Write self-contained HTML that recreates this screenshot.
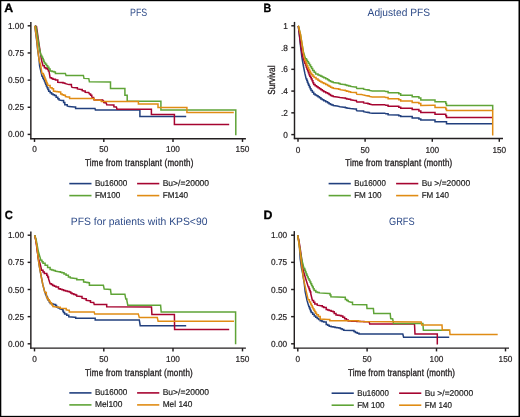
<!DOCTYPE html>
<html><head><meta charset="utf-8"><style>
html,body{margin:0;padding:0;background:#fff;}
#c{position:relative;width:520px;height:417px;overflow:hidden;background:#fff;}
svg{position:absolute;left:0;top:0;font-family:"Liberation Sans",sans-serif;text-rendering:geometricPrecision;will-change:transform;}
</style></head><body><div id="c">
<svg width="520" height="417" viewBox="0 0 520 417">
<rect x="0" y="0" width="520" height="417" fill="#fff"/>
<g>
<rect x="0" y="0" width="520" height="1.2" fill="#000"/><rect x="0" y="415.85" width="520" height="1.15" fill="#000"/><rect x="0" y="0" width="1.3" height="417" fill="#000"/><rect x="518.5" y="0" width="1.5" height="417" fill="#000"/>
<line x1="30.85" y1="22" x2="30.85" y2="139.3" stroke="#231f20" stroke-width="1.45"/>
<line x1="30.200000000000003" y1="138.65" x2="245.9" y2="138.65" stroke="#231f20" stroke-width="1.45"/>
<line x1="27.650000000000002" y1="25.8" x2="30.85" y2="25.8" stroke="#231f20" stroke-width="1.45"/>
<text x="24.0" y="28.8" font-size="8.7" text-anchor="end" fill="#231f20" font-weight="normal" textLength="16.09" lengthAdjust="spacingAndGlyphs" stroke="#231f20" stroke-width="0.2">1.00</text>
<line x1="27.650000000000002" y1="52.95" x2="30.85" y2="52.95" stroke="#231f20" stroke-width="1.45"/>
<text x="24.0" y="55.95" font-size="8.7" text-anchor="end" fill="#231f20" font-weight="normal" textLength="16.09" lengthAdjust="spacingAndGlyphs" stroke="#231f20" stroke-width="0.2">0.75</text>
<line x1="27.650000000000002" y1="80.10000000000001" x2="30.85" y2="80.10000000000001" stroke="#231f20" stroke-width="1.45"/>
<text x="24.0" y="83.10000000000001" font-size="8.7" text-anchor="end" fill="#231f20" font-weight="normal" textLength="16.09" lengthAdjust="spacingAndGlyphs" stroke="#231f20" stroke-width="0.2">0.50</text>
<line x1="27.650000000000002" y1="107.25" x2="30.85" y2="107.25" stroke="#231f20" stroke-width="1.45"/>
<text x="24.0" y="110.25" font-size="8.7" text-anchor="end" fill="#231f20" font-weight="normal" textLength="16.09" lengthAdjust="spacingAndGlyphs" stroke="#231f20" stroke-width="0.2">0.25</text>
<line x1="27.650000000000002" y1="134.4" x2="30.85" y2="134.4" stroke="#231f20" stroke-width="1.45"/>
<text x="24.0" y="137.4" font-size="8.7" text-anchor="end" fill="#231f20" font-weight="normal" textLength="16.09" lengthAdjust="spacingAndGlyphs" stroke="#231f20" stroke-width="0.2">0.00</text>
<line x1="34.5" y1="138.65" x2="34.5" y2="141.95000000000002" stroke="#231f20" stroke-width="1.45"/>
<text x="34.5" y="152.3" font-size="8.7" text-anchor="middle" fill="#231f20" font-weight="normal" textLength="4.6" lengthAdjust="spacingAndGlyphs" stroke="#231f20" stroke-width="0.2">0</text>
<line x1="103.8" y1="138.65" x2="103.8" y2="141.95000000000002" stroke="#231f20" stroke-width="1.45"/>
<text x="103.8" y="152.3" font-size="8.7" text-anchor="middle" fill="#231f20" font-weight="normal" textLength="9.19" lengthAdjust="spacingAndGlyphs" stroke="#231f20" stroke-width="0.2">50</text>
<line x1="173" y1="138.65" x2="173" y2="141.95000000000002" stroke="#231f20" stroke-width="1.45"/>
<text x="173" y="152.3" font-size="8.7" text-anchor="middle" fill="#231f20" font-weight="normal" textLength="13.79" lengthAdjust="spacingAndGlyphs" stroke="#231f20" stroke-width="0.2">100</text>
<line x1="242.5" y1="138.65" x2="242.5" y2="141.95000000000002" stroke="#231f20" stroke-width="1.45"/>
<text x="242.5" y="152.3" font-size="8.7" text-anchor="middle" fill="#231f20" font-weight="normal" textLength="13.79" lengthAdjust="spacingAndGlyphs" stroke="#231f20" stroke-width="0.2">150</text>
<line x1="294.5" y1="21.9" x2="294.5" y2="139.15" stroke="#231f20" stroke-width="1.45"/>
<line x1="293.85" y1="138.5" x2="503.0" y2="138.5" stroke="#231f20" stroke-width="1.45"/>
<line x1="291.3" y1="25.8" x2="294.5" y2="25.8" stroke="#231f20" stroke-width="1.45"/>
<text x="287.8" y="28.8" font-size="8.7" text-anchor="end" fill="#231f20" font-weight="normal" textLength="4.6" lengthAdjust="spacingAndGlyphs" stroke="#231f20" stroke-width="0.2">1</text>
<line x1="291.3" y1="47.56" x2="294.5" y2="47.56" stroke="#231f20" stroke-width="1.45"/>
<text x="287.8" y="50.56" font-size="8.7" text-anchor="end" fill="#231f20" font-weight="normal" textLength="6.89" lengthAdjust="spacingAndGlyphs" stroke="#231f20" stroke-width="0.2">.8</text>
<line x1="291.3" y1="69.32" x2="294.5" y2="69.32" stroke="#231f20" stroke-width="1.45"/>
<text x="287.8" y="72.32" font-size="8.7" text-anchor="end" fill="#231f20" font-weight="normal" textLength="6.89" lengthAdjust="spacingAndGlyphs" stroke="#231f20" stroke-width="0.2">.6</text>
<line x1="291.3" y1="91.08" x2="294.5" y2="91.08" stroke="#231f20" stroke-width="1.45"/>
<text x="287.8" y="94.08" font-size="8.7" text-anchor="end" fill="#231f20" font-weight="normal" textLength="6.89" lengthAdjust="spacingAndGlyphs" stroke="#231f20" stroke-width="0.2">.4</text>
<line x1="291.3" y1="112.83999999999999" x2="294.5" y2="112.83999999999999" stroke="#231f20" stroke-width="1.45"/>
<text x="287.8" y="115.83999999999999" font-size="8.7" text-anchor="end" fill="#231f20" font-weight="normal" textLength="6.89" lengthAdjust="spacingAndGlyphs" stroke="#231f20" stroke-width="0.2">.2</text>
<line x1="291.3" y1="134.6" x2="294.5" y2="134.6" stroke="#231f20" stroke-width="1.45"/>
<text x="287.8" y="137.6" font-size="8.7" text-anchor="end" fill="#231f20" font-weight="normal" textLength="4.6" lengthAdjust="spacingAndGlyphs" stroke="#231f20" stroke-width="0.2">0</text>
<line x1="298" y1="138.5" x2="298" y2="141.8" stroke="#231f20" stroke-width="1.45"/>
<text x="298" y="152.7" font-size="8.7" text-anchor="middle" fill="#231f20" font-weight="normal" textLength="4.6" lengthAdjust="spacingAndGlyphs" stroke="#231f20" stroke-width="0.2">0</text>
<line x1="365.1" y1="138.5" x2="365.1" y2="141.8" stroke="#231f20" stroke-width="1.45"/>
<text x="365.1" y="152.7" font-size="8.7" text-anchor="middle" fill="#231f20" font-weight="normal" textLength="9.19" lengthAdjust="spacingAndGlyphs" stroke="#231f20" stroke-width="0.2">50</text>
<line x1="432.3" y1="138.5" x2="432.3" y2="141.8" stroke="#231f20" stroke-width="1.45"/>
<text x="432.3" y="152.7" font-size="8.7" text-anchor="middle" fill="#231f20" font-weight="normal" textLength="13.79" lengthAdjust="spacingAndGlyphs" stroke="#231f20" stroke-width="0.2">100</text>
<line x1="499.3" y1="138.5" x2="499.3" y2="141.8" stroke="#231f20" stroke-width="1.45"/>
<text x="499.3" y="152.7" font-size="8.7" text-anchor="middle" fill="#231f20" font-weight="normal" textLength="13.79" lengthAdjust="spacingAndGlyphs" stroke="#231f20" stroke-width="0.2">150</text>
<line x1="30.85" y1="231.5" x2="30.85" y2="348.75" stroke="#231f20" stroke-width="1.45"/>
<line x1="30.200000000000003" y1="348.1" x2="245.9" y2="348.1" stroke="#231f20" stroke-width="1.45"/>
<line x1="27.650000000000002" y1="235.2" x2="30.85" y2="235.2" stroke="#231f20" stroke-width="1.45"/>
<text x="24.0" y="238.2" font-size="8.7" text-anchor="end" fill="#231f20" font-weight="normal" textLength="16.09" lengthAdjust="spacingAndGlyphs" stroke="#231f20" stroke-width="0.2">1.00</text>
<line x1="27.650000000000002" y1="262.35" x2="30.85" y2="262.35" stroke="#231f20" stroke-width="1.45"/>
<text x="24.0" y="265.35" font-size="8.7" text-anchor="end" fill="#231f20" font-weight="normal" textLength="16.09" lengthAdjust="spacingAndGlyphs" stroke="#231f20" stroke-width="0.2">0.75</text>
<line x1="27.650000000000002" y1="289.5" x2="30.85" y2="289.5" stroke="#231f20" stroke-width="1.45"/>
<text x="24.0" y="292.5" font-size="8.7" text-anchor="end" fill="#231f20" font-weight="normal" textLength="16.09" lengthAdjust="spacingAndGlyphs" stroke="#231f20" stroke-width="0.2">0.50</text>
<line x1="27.650000000000002" y1="316.65" x2="30.85" y2="316.65" stroke="#231f20" stroke-width="1.45"/>
<text x="24.0" y="319.65" font-size="8.7" text-anchor="end" fill="#231f20" font-weight="normal" textLength="16.09" lengthAdjust="spacingAndGlyphs" stroke="#231f20" stroke-width="0.2">0.25</text>
<line x1="27.650000000000002" y1="343.8" x2="30.85" y2="343.8" stroke="#231f20" stroke-width="1.45"/>
<text x="24.0" y="346.8" font-size="8.7" text-anchor="end" fill="#231f20" font-weight="normal" textLength="16.09" lengthAdjust="spacingAndGlyphs" stroke="#231f20" stroke-width="0.2">0.00</text>
<line x1="34.5" y1="348.1" x2="34.5" y2="351.40000000000003" stroke="#231f20" stroke-width="1.45"/>
<text x="34.5" y="361.6" font-size="8.7" text-anchor="middle" fill="#231f20" font-weight="normal" textLength="4.6" lengthAdjust="spacingAndGlyphs" stroke="#231f20" stroke-width="0.2">0</text>
<line x1="103.8" y1="348.1" x2="103.8" y2="351.40000000000003" stroke="#231f20" stroke-width="1.45"/>
<text x="103.8" y="361.6" font-size="8.7" text-anchor="middle" fill="#231f20" font-weight="normal" textLength="9.19" lengthAdjust="spacingAndGlyphs" stroke="#231f20" stroke-width="0.2">50</text>
<line x1="173" y1="348.1" x2="173" y2="351.40000000000003" stroke="#231f20" stroke-width="1.45"/>
<text x="173" y="361.6" font-size="8.7" text-anchor="middle" fill="#231f20" font-weight="normal" textLength="13.79" lengthAdjust="spacingAndGlyphs" stroke="#231f20" stroke-width="0.2">100</text>
<line x1="242.5" y1="348.1" x2="242.5" y2="351.40000000000003" stroke="#231f20" stroke-width="1.45"/>
<text x="242.5" y="361.6" font-size="8.7" text-anchor="middle" fill="#231f20" font-weight="normal" textLength="13.79" lengthAdjust="spacingAndGlyphs" stroke="#231f20" stroke-width="0.2">150</text>
<line x1="294.3" y1="231.1" x2="294.3" y2="348.75" stroke="#231f20" stroke-width="1.45"/>
<line x1="293.65000000000003" y1="348.1" x2="509.0" y2="348.1" stroke="#231f20" stroke-width="1.45"/>
<line x1="291.1" y1="235.2" x2="294.3" y2="235.2" stroke="#231f20" stroke-width="1.45"/>
<text x="287.2" y="238.2" font-size="8.7" text-anchor="end" fill="#231f20" font-weight="normal" textLength="16.09" lengthAdjust="spacingAndGlyphs" stroke="#231f20" stroke-width="0.2">1.00</text>
<line x1="291.1" y1="262.35" x2="294.3" y2="262.35" stroke="#231f20" stroke-width="1.45"/>
<text x="287.2" y="265.35" font-size="8.7" text-anchor="end" fill="#231f20" font-weight="normal" textLength="16.09" lengthAdjust="spacingAndGlyphs" stroke="#231f20" stroke-width="0.2">0.75</text>
<line x1="291.1" y1="289.5" x2="294.3" y2="289.5" stroke="#231f20" stroke-width="1.45"/>
<text x="287.2" y="292.5" font-size="8.7" text-anchor="end" fill="#231f20" font-weight="normal" textLength="16.09" lengthAdjust="spacingAndGlyphs" stroke="#231f20" stroke-width="0.2">0.50</text>
<line x1="291.1" y1="316.65" x2="294.3" y2="316.65" stroke="#231f20" stroke-width="1.45"/>
<text x="287.2" y="319.65" font-size="8.7" text-anchor="end" fill="#231f20" font-weight="normal" textLength="16.09" lengthAdjust="spacingAndGlyphs" stroke="#231f20" stroke-width="0.2">0.25</text>
<line x1="291.1" y1="343.8" x2="294.3" y2="343.8" stroke="#231f20" stroke-width="1.45"/>
<text x="287.2" y="346.8" font-size="8.7" text-anchor="end" fill="#231f20" font-weight="normal" textLength="16.09" lengthAdjust="spacingAndGlyphs" stroke="#231f20" stroke-width="0.2">0.00</text>
<line x1="297.8" y1="348.1" x2="297.8" y2="351.40000000000003" stroke="#231f20" stroke-width="1.45"/>
<text x="297.8" y="361.6" font-size="8.7" text-anchor="middle" fill="#231f20" font-weight="normal" textLength="4.6" lengthAdjust="spacingAndGlyphs" stroke="#231f20" stroke-width="0.2">0</text>
<line x1="367.1" y1="348.1" x2="367.1" y2="351.40000000000003" stroke="#231f20" stroke-width="1.45"/>
<text x="367.1" y="361.6" font-size="8.7" text-anchor="middle" fill="#231f20" font-weight="normal" textLength="9.19" lengthAdjust="spacingAndGlyphs" stroke="#231f20" stroke-width="0.2">50</text>
<line x1="436.5" y1="348.1" x2="436.5" y2="351.40000000000003" stroke="#231f20" stroke-width="1.45"/>
<text x="436.5" y="361.6" font-size="8.7" text-anchor="middle" fill="#231f20" font-weight="normal" textLength="13.79" lengthAdjust="spacingAndGlyphs" stroke="#231f20" stroke-width="0.2">100</text>
<line x1="505.5" y1="348.1" x2="505.5" y2="351.40000000000003" stroke="#231f20" stroke-width="1.45"/>
<text x="505.5" y="361.6" font-size="8.7" text-anchor="middle" fill="#231f20" font-weight="normal" textLength="13.79" lengthAdjust="spacingAndGlyphs" stroke="#231f20" stroke-width="0.2">150</text>
<text x="4.3" y="11.9" font-size="12" text-anchor="start" fill="#000" font-weight="bold" textLength="8.93" lengthAdjust="spacingAndGlyphs" stroke="#000" stroke-width="0.3">A</text>
<text x="263.5" y="12.0" font-size="12" text-anchor="start" fill="#000" font-weight="bold" textLength="7.7" lengthAdjust="spacingAndGlyphs" stroke="#000" stroke-width="0.3">B</text>
<text x="4.8" y="218.9" font-size="12" text-anchor="start" fill="#000" font-weight="bold" textLength="8.1" lengthAdjust="spacingAndGlyphs" stroke="#000" stroke-width="0.3">C</text>
<text x="263.4" y="218.8" font-size="12" text-anchor="start" fill="#000" font-weight="bold" textLength="8.95" lengthAdjust="spacingAndGlyphs" stroke="#000" stroke-width="0.3">D</text>
<text x="130.0" y="15.9" font-size="10.6" text-anchor="start" fill="#2e4b88" font-weight="normal" textLength="17.2" lengthAdjust="spacingAndGlyphs">PFS</text>
<text x="367.6" y="16.1" font-size="10.6" text-anchor="start" fill="#2e4b88" font-weight="normal" textLength="62.4" lengthAdjust="spacingAndGlyphs">Adjusted PFS</text>
<text x="70.8" y="225.4" font-size="10.6" text-anchor="start" fill="#2e4b88" font-weight="normal" textLength="136.6" lengthAdjust="spacingAndGlyphs">PFS for patients with KPS&lt;90</text>
<text x="389.0" y="224.8" font-size="10.6" text-anchor="start" fill="#2e4b88" font-weight="normal" textLength="25.6" lengthAdjust="spacingAndGlyphs">GRFS</text>
<text transform="translate(85.0,166.4) scale(0.8,1)" x="0" y="0" font-size="10" fill="#231f20" stroke="#231f20" stroke-width="0.35" textLength="135.50" lengthAdjust="spacing">Time from transplant (month)</text>
<text transform="translate(345.2,166.2) scale(0.8,1)" x="0" y="0" font-size="10" fill="#231f20" stroke="#231f20" stroke-width="0.35" textLength="133.75" lengthAdjust="spacing">Time from transplant (month)</text>
<text transform="translate(85.1,376.2) scale(0.8,1)" x="0" y="0" font-size="10" fill="#231f20" stroke="#231f20" stroke-width="0.35" textLength="134.50" lengthAdjust="spacing">Time from transplant (month)</text>
<text transform="translate(347.9,375.9) scale(0.8,1)" x="0" y="0" font-size="10" fill="#231f20" stroke="#231f20" stroke-width="0.35" textLength="133.75" lengthAdjust="spacing">Time from transplant (month)</text>
<text transform="translate(275.0,80.1) rotate(-90)" x="0" y="0" font-size="10.2" text-anchor="middle" fill="#231f20" stroke="#231f20" stroke-width="0.3" textLength="29.2" lengthAdjust="spacingAndGlyphs">Survival</text>
<line x1="69.3" y1="183.6" x2="91.5" y2="183.6" stroke="#22407e" stroke-width="1.6"/>
<text x="94.9" y="186.15" font-size="8.5" text-anchor="start" fill="#222" font-weight="normal" textLength="32.4" lengthAdjust="spacingAndGlyphs" stroke="#222" stroke-width="0.2">Bu16000</text>
<line x1="137.1" y1="183.6" x2="159.29999999999998" y2="183.6" stroke="#a60430" stroke-width="1.6"/>
<text x="162.7" y="186.15" font-size="8.5" text-anchor="start" fill="#222" font-weight="normal" textLength="46.4" lengthAdjust="spacingAndGlyphs" stroke="#222" stroke-width="0.2">Bu&gt;/=20000</text>
<line x1="69.3" y1="195.6" x2="91.5" y2="195.6" stroke="#5fa437" stroke-width="1.6"/>
<text x="94.9" y="198.15" font-size="8.5" text-anchor="start" fill="#222" font-weight="normal" textLength="25.4" lengthAdjust="spacingAndGlyphs" stroke="#222" stroke-width="0.2">FM100</text>
<line x1="137.1" y1="195.6" x2="159.29999999999998" y2="195.6" stroke="#e08c14" stroke-width="1.6"/>
<text x="162.7" y="198.15" font-size="8.5" text-anchor="start" fill="#222" font-weight="normal" textLength="25.4" lengthAdjust="spacingAndGlyphs" stroke="#222" stroke-width="0.2">FM140</text>
<line x1="328.6" y1="183.6" x2="350.8" y2="183.6" stroke="#22407e" stroke-width="1.6"/>
<text x="354.20000000000005" y="186.15" font-size="8.5" text-anchor="start" fill="#222" font-weight="normal" textLength="31.6" lengthAdjust="spacingAndGlyphs" stroke="#222" stroke-width="0.2">Bu16000</text>
<line x1="396.1" y1="183.6" x2="418.3" y2="183.6" stroke="#a60430" stroke-width="1.6"/>
<text x="421.70000000000005" y="186.15" font-size="8.5" text-anchor="start" fill="#222" font-weight="normal" textLength="48.4" lengthAdjust="spacingAndGlyphs" stroke="#222" stroke-width="0.2">Bu &gt;/=20000</text>
<line x1="328.6" y1="195.6" x2="350.8" y2="195.6" stroke="#5fa437" stroke-width="1.6"/>
<text x="354.20000000000005" y="198.15" font-size="8.5" text-anchor="start" fill="#222" font-weight="normal" textLength="27.4" lengthAdjust="spacingAndGlyphs" stroke="#222" stroke-width="0.2">FM 100</text>
<line x1="396.1" y1="195.6" x2="418.3" y2="195.6" stroke="#e08c14" stroke-width="1.6"/>
<text x="421.70000000000005" y="198.15" font-size="8.5" text-anchor="start" fill="#222" font-weight="normal" textLength="27.2" lengthAdjust="spacingAndGlyphs" stroke="#222" stroke-width="0.2">FM 140</text>
<line x1="69.3" y1="392.9" x2="91.5" y2="392.9" stroke="#22407e" stroke-width="1.6"/>
<text x="94.9" y="395.45" font-size="8.5" text-anchor="start" fill="#222" font-weight="normal" textLength="32.4" lengthAdjust="spacingAndGlyphs" stroke="#222" stroke-width="0.2">Bu16000</text>
<line x1="137.1" y1="392.9" x2="159.29999999999998" y2="392.9" stroke="#a60430" stroke-width="1.6"/>
<text x="162.7" y="395.45" font-size="8.5" text-anchor="start" fill="#222" font-weight="normal" textLength="46.4" lengthAdjust="spacingAndGlyphs" stroke="#222" stroke-width="0.2">Bu&gt;/=20000</text>
<line x1="69.3" y1="404.9" x2="91.5" y2="404.9" stroke="#5fa437" stroke-width="1.6"/>
<text x="94.9" y="407.45" font-size="8.5" text-anchor="start" fill="#222" font-weight="normal" textLength="27.6" lengthAdjust="spacingAndGlyphs" stroke="#222" stroke-width="0.2">Mel100</text>
<line x1="137.1" y1="404.9" x2="159.29999999999998" y2="404.9" stroke="#e08c14" stroke-width="1.6"/>
<text x="162.7" y="407.45" font-size="8.5" text-anchor="start" fill="#222" font-weight="normal" textLength="29.6" lengthAdjust="spacingAndGlyphs" stroke="#222" stroke-width="0.2">Mel 140</text>
<line x1="331.6" y1="393.2" x2="353.8" y2="393.2" stroke="#22407e" stroke-width="1.6"/>
<text x="357.20000000000005" y="395.75" font-size="8.5" text-anchor="start" fill="#222" font-weight="normal" textLength="31.6" lengthAdjust="spacingAndGlyphs" stroke="#222" stroke-width="0.2">Bu16000</text>
<line x1="399.1" y1="393.2" x2="421.3" y2="393.2" stroke="#a60430" stroke-width="1.6"/>
<text x="424.70000000000005" y="395.75" font-size="8.5" text-anchor="start" fill="#222" font-weight="normal" textLength="48.4" lengthAdjust="spacingAndGlyphs" stroke="#222" stroke-width="0.2">Bu &gt;/=20000</text>
<line x1="331.6" y1="405.2" x2="353.8" y2="405.2" stroke="#5fa437" stroke-width="1.6"/>
<text x="357.20000000000005" y="407.75" font-size="8.5" text-anchor="start" fill="#222" font-weight="normal" textLength="27.4" lengthAdjust="spacingAndGlyphs" stroke="#222" stroke-width="0.2">FM 100</text>
<line x1="399.1" y1="405.2" x2="421.3" y2="405.2" stroke="#e08c14" stroke-width="1.6"/>
<text x="424.70000000000005" y="407.75" font-size="8.5" text-anchor="start" fill="#222" font-weight="normal" textLength="27.2" lengthAdjust="spacingAndGlyphs" stroke="#222" stroke-width="0.2">FM 140</text>
<polyline points="34.80,25.80 36.50,39.20 37.70,50.00 39.10,60.00 39.60,65.80 42.00,76.30 42.80,76.30 42.80,77.90 43.60,77.90 43.60,79.50 44.40,79.50 44.40,81.10 45.03,81.10 45.03,82.70 45.67,82.70 45.67,84.30 46.30,84.30 46.30,85.90 47.10,85.90 47.10,87.67 47.90,87.67 47.90,89.43 48.70,89.43 48.70,91.20 50.15,91.20 50.15,92.65 51.60,92.65 51.60,94.10 53.05,94.10 53.05,94.80 54.50,94.80 54.50,95.50 56.15,95.50 56.15,97.15 57.80,97.15 57.80,98.80 59.00,98.80 59.00,100.00 61.80,100.60 63.60,100.60 63.60,102.40 64.80,102.40 64.80,104.80 67.20,104.80 67.20,106.00 69.00,106.60 74.40,106.90 75.60,106.90 75.60,108.40 95.00,108.60 95.40,110.10 139.90,110.10 139.90,116.60 186.20,116.60" fill="none" stroke="#22407e" stroke-width="1.5" stroke-linejoin="miter" stroke-linecap="butt"/>
<polyline points="34.80,25.80 36.50,26.50 37.60,34.00 39.40,46.50 41.50,60.00 43.00,65.80 44.40,65.80 44.40,67.70 46.05,67.70 46.05,68.65 47.70,68.65 47.70,69.60 48.45,69.60 48.45,71.05 49.20,71.05 49.20,72.50 50.10,77.70 51.55,77.70 51.55,78.45 53.00,78.45 53.00,79.20 55.40,79.20 55.40,80.10 57.80,80.10 57.80,82.30 61.20,82.60 63.00,82.60 63.00,83.00 64.80,83.00 64.80,83.40 67.20,84.10 69.00,84.60 71.40,84.60 71.40,85.80 72.00,87.40 75.60,87.70 77.40,87.70 77.40,88.90 81.00,89.40 82.20,89.40 82.20,90.60 84.00,91.00 85.20,91.00 85.20,92.20 88.80,92.50 89.40,94.00 90.60,94.00 90.60,95.20 91.80,95.20 91.80,97.00 92.40,97.60 93.60,97.60 93.60,98.60 94.20,100.00 101.80,100.00 102.10,99.90 103.40,100.50 103.80,102.60 106.30,103.00 106.70,104.70 113.00,104.90 113.90,104.90 113.90,106.80 116.40,107.00 117.00,109.30 151.40,109.30 151.40,114.40 174.40,114.40 174.40,124.50 229.20,124.50" fill="none" stroke="#a60430" stroke-width="1.5" stroke-linejoin="miter" stroke-linecap="butt"/>
<polyline points="34.80,25.80 35.90,26.50 37.20,34.40 39.10,46.90 41.00,55.50 41.73,55.50 41.73,57.00 42.47,57.00 42.47,58.50 43.20,58.50 43.20,60.00 43.80,60.00 43.80,61.45 44.40,61.45 44.40,62.90 45.50,62.90 45.50,64.33 46.60,64.33 46.60,65.77 47.70,65.77 47.70,67.20 48.90,67.20 48.90,69.10 50.10,69.10 50.10,71.00 52.05,71.00 52.05,71.50 54.00,71.50 54.00,72.00 55.40,72.00 55.40,73.40 65.40,73.60 66.00,75.40 83.40,75.40 84.00,78.40 88.80,78.60 89.40,81.80 110.50,82.10 110.50,88.40 124.90,88.40 124.90,95.30 127.20,95.30 127.20,101.30 160.90,101.30 160.90,109.90 235.80,109.90 235.80,135.30" fill="none" stroke="#5fa437" stroke-width="1.5" stroke-linejoin="miter" stroke-linecap="butt"/>
<polyline points="34.80,25.80 36.70,39.20 37.70,48.80 39.10,60.00 40.60,64.80 42.00,73.40 43.40,73.40 43.40,75.30 44.20,75.30 44.20,77.23 45.00,77.23 45.00,79.17 45.80,79.17 45.80,81.10 46.43,81.10 46.43,82.53 47.07,82.53 47.07,83.97 47.70,83.97 47.70,85.40 50.10,85.40 50.10,87.80 52.10,87.80 52.10,88.80 53.50,88.80 53.50,91.20 55.27,91.20 55.27,91.50 57.03,91.50 57.03,91.80 58.80,91.80 58.80,92.10 60.70,92.10 60.70,94.10 62.15,94.10 62.15,94.65 63.60,94.65 63.60,95.20 65.40,95.20 65.40,96.60 67.80,97.00 69.60,97.00 69.60,98.50 92.40,98.50 94.20,98.50 94.20,100.10 100.90,100.20 101.30,101.50 138.40,101.50 138.40,104.10 158.00,104.10 158.00,107.60 186.90,107.60 186.90,112.60 233.80,112.60" fill="none" stroke="#e08c14" stroke-width="1.5" stroke-linejoin="miter" stroke-linecap="butt"/>
<polyline points="298.30,25.80 299.00,31.50 300.50,45.90 301.90,57.40 303.40,66.00 304.80,73.20 306.20,79.00 306.80,79.00 306.80,80.58 307.40,80.58 307.40,82.15 308.00,82.15 308.00,83.72 308.60,83.72 308.60,85.30 309.40,85.30 309.40,87.03 310.20,87.03 310.20,88.77 311.00,88.77 311.00,90.50 312.35,90.50 312.35,92.25 313.70,92.25 313.70,94.00 315.13,94.00 315.13,94.90 316.57,94.90 316.57,95.80 318.00,95.80 318.00,96.70 319.45,96.70 319.45,97.80 320.90,97.80 320.90,98.90 322.35,98.90 322.35,99.85 323.80,99.85 323.80,100.80 325.70,100.80 325.70,101.75 327.60,101.75 327.60,102.70 329.05,102.70 329.05,103.65 330.50,103.65 330.50,104.60 331.90,104.60 331.90,105.10 333.30,105.10 333.30,105.60 337.20,106.10 340.10,106.70 343.90,107.30 345.35,107.30 345.35,107.65 346.80,107.65 346.80,108.00 350.60,108.60 354.90,108.90 356.40,108.90 356.40,110.20 356.90,110.80 361.70,111.00 363.60,111.00 363.60,111.70 366.50,112.20 367.95,112.20 367.95,112.55 369.40,112.55 369.40,112.90 372.30,113.20 384.70,113.20 385.70,113.70 388.10,113.70 388.10,114.80 397.80,114.90 398.80,114.90 398.80,115.80 400.70,115.80 400.70,116.60 410.70,116.60 412.20,116.60 412.20,117.90 417.50,117.90 418.90,117.90 418.90,118.90 420.80,118.90 420.80,120.10 433.50,120.10 435.00,120.10 435.00,121.80 445.00,121.80 446.50,121.80 446.50,123.80 492.70,123.80" fill="none" stroke="#22407e" stroke-width="1.5" stroke-linejoin="miter" stroke-linecap="butt"/>
<polyline points="298.30,25.80 299.00,31.50 301.20,48.80 302.60,56.00 304.80,63.20 305.50,63.20 305.50,65.10 306.20,65.10 306.20,67.00 306.90,67.00 306.90,68.90 307.63,68.90 307.63,70.83 308.37,70.83 308.37,72.77 309.10,72.77 309.10,74.70 309.83,74.70 309.83,76.13 310.57,76.13 310.57,77.57 311.30,77.57 311.30,79.00 312.10,79.00 312.10,80.87 312.90,80.87 312.90,82.73 313.70,82.73 313.70,84.60 315.13,84.60 315.13,85.67 316.57,85.67 316.57,86.73 318.00,86.73 318.00,87.80 319.45,87.80 319.45,88.75 320.90,88.75 320.90,89.70 322.35,89.70 322.35,90.70 323.80,90.70 323.80,91.70 325.70,91.70 325.70,92.65 327.60,92.65 327.60,93.60 329.05,93.60 329.05,94.55 330.50,94.55 330.50,95.50 331.90,95.50 331.90,96.00 333.30,96.00 333.30,96.50 337.20,96.90 340.10,97.40 343.90,97.90 345.35,97.90 345.35,98.40 346.80,98.40 346.80,98.90 348.70,98.90 348.70,99.35 350.60,99.35 350.60,99.80 354.90,100.40 356.40,100.40 356.40,101.30 356.90,102.00 361.70,102.10 363.60,102.10 363.60,102.90 366.50,103.30 367.95,103.30 367.95,103.70 369.40,103.70 369.40,104.10 372.30,104.70 384.70,104.70 385.70,105.30 388.10,105.30 388.10,106.30 397.80,106.20 398.80,106.20 398.80,107.20 400.70,107.20 400.70,108.30 410.70,108.30 412.20,108.30 412.20,109.60 417.50,109.60 418.90,109.60 418.90,111.00 420.80,111.00 420.80,112.50 433.50,112.60 435.00,112.60 435.00,114.30 445.00,114.30 445.75,114.30 445.75,115.85 446.50,115.85 446.50,117.40 492.70,117.40" fill="none" stroke="#a60430" stroke-width="1.5" stroke-linejoin="miter" stroke-linecap="butt"/>
<polyline points="298.30,25.80 300.50,34.40 301.90,43.00 303.40,51.70 305.50,58.80 306.47,58.80 306.47,60.27 307.43,60.27 307.43,61.73 308.40,61.73 308.40,63.20 309.47,63.20 309.47,65.00 310.55,65.00 310.55,66.80 311.62,66.80 311.62,68.60 312.70,68.60 312.70,70.40 314.15,70.40 314.15,72.20 315.60,72.20 315.60,74.00 318.00,74.00 318.00,74.90 319.45,74.90 319.45,75.60 320.90,75.60 320.90,76.30 322.35,76.30 322.35,77.05 323.80,77.05 323.80,77.80 325.70,77.80 325.70,78.75 327.60,78.75 327.60,79.70 329.05,79.70 329.05,80.65 330.50,80.65 330.50,81.60 331.90,81.60 331.90,82.10 333.30,82.10 333.30,82.60 337.20,83.00 338.65,83.00 338.65,83.50 340.10,83.50 340.10,84.00 343.90,84.50 345.35,84.50 345.35,84.95 346.80,84.95 346.80,85.40 348.70,85.40 348.70,85.90 350.60,85.90 350.60,86.40 354.90,86.90 356.40,86.90 356.40,87.80 356.90,88.50 361.70,88.50 363.60,88.50 363.60,89.20 366.50,89.70 367.95,89.70 367.95,90.05 369.40,90.05 369.40,90.40 372.30,91.10 384.70,91.10 385.70,91.60 388.10,91.60 388.10,92.70 397.80,92.80 398.80,92.80 398.80,93.80 400.70,93.80 400.70,95.20 410.70,95.20 412.20,95.20 412.20,96.80 417.50,96.80 418.90,96.80 418.90,98.10 420.80,98.10 420.80,100.00 433.50,100.00 435.00,100.00 435.00,101.80 445.00,101.80 445.75,101.80 445.75,103.60 446.50,103.60 446.50,105.40 492.70,105.40 492.70,110.00" fill="none" stroke="#5fa437" stroke-width="1.5" stroke-linejoin="miter" stroke-linecap="butt"/>
<polyline points="298.30,25.80 300.50,34.40 301.90,43.00 303.40,53.10 304.80,60.30 305.52,60.30 305.52,62.10 306.25,62.10 306.25,63.90 306.98,63.90 306.98,65.70 307.70,65.70 307.70,67.50 308.63,67.50 308.63,69.40 309.57,69.40 309.57,71.30 310.50,71.30 310.50,73.20 311.70,73.20 311.70,74.67 312.90,74.67 312.90,76.13 314.10,76.13 314.10,77.60 316.05,77.60 316.05,78.90 318.00,78.90 318.00,80.20 319.45,80.20 319.45,81.15 320.90,81.15 320.90,82.10 322.35,82.10 322.35,82.80 323.80,82.80 323.80,83.50 325.70,83.50 325.70,84.45 327.60,84.45 327.60,85.40 329.05,85.40 329.05,86.35 330.50,86.35 330.50,87.30 331.90,87.30 331.90,87.80 333.30,87.80 333.30,88.30 337.20,88.80 338.65,88.80 338.65,89.25 340.10,89.25 340.10,89.70 343.90,90.20 345.35,90.20 345.35,90.70 346.80,90.70 346.80,91.20 348.70,91.20 348.70,91.75 350.60,91.75 350.60,92.30 354.90,92.60 356.40,92.60 356.40,93.60 356.90,94.30 361.70,94.50 363.60,95.10 366.50,95.70 367.95,95.70 367.95,96.05 369.40,96.05 369.40,96.40 372.30,97.10 384.70,97.10 385.70,97.50 388.10,97.50 388.10,98.80 397.80,98.70 398.80,98.70 398.80,99.70 400.70,99.70 400.70,101.00 410.70,101.00 412.20,101.00 412.20,102.40 417.50,102.40 418.90,102.40 418.90,103.50 420.80,103.50 420.80,105.40 433.50,105.30 435.00,105.30 435.00,107.40 445.00,107.40 445.75,107.40 445.75,108.95 446.50,108.95 446.50,110.50 492.70,110.50 492.70,135.50" fill="none" stroke="#e08c14" stroke-width="1.5" stroke-linejoin="miter" stroke-linecap="butt"/>
<polyline points="34.80,235.30 36.60,244.40 38.30,258.80 39.10,265.00 40.40,272.20 42.70,284.20 44.90,292.60 45.47,292.60 45.47,294.07 46.03,294.07 46.03,295.53 46.60,295.53 46.60,297.00 47.40,297.00 47.40,298.65 48.20,298.65 48.20,300.30 49.25,300.30 49.25,301.90 50.30,301.90 50.30,303.50 51.90,303.50 51.90,304.00 53.50,304.00 53.50,304.50 55.60,304.50 55.60,305.60 56.60,305.60 56.60,307.20 58.20,307.20 58.20,307.95 59.80,307.95 59.80,308.70 61.15,308.70 61.15,309.25 62.50,309.25 62.50,309.80 63.00,309.80 63.00,311.15 63.50,311.15 63.50,312.50 64.60,312.50 64.60,314.00 66.70,314.00 66.70,315.35 68.80,315.35 68.80,316.70 74.60,317.20 75.70,317.20 75.70,318.30 94.20,318.30 95.20,318.30 95.20,320.00 139.30,320.00 140.20,325.70 186.20,325.70" fill="none" stroke="#22407e" stroke-width="1.5" stroke-linejoin="miter" stroke-linecap="butt"/>
<polyline points="34.80,235.30 35.80,240.00 36.70,246.80 38.40,258.50 40.10,263.60 41.70,270.30 43.00,270.30 43.00,271.95 44.30,271.95 44.30,273.60 46.80,273.60 46.80,275.30 47.65,275.30 47.65,277.00 48.50,277.00 48.50,278.70 50.10,283.70 51.40,283.70 51.40,284.55 52.70,284.55 52.70,285.40 54.35,285.40 54.35,286.20 56.00,286.20 56.00,287.00 58.50,287.00 58.50,288.70 60.20,288.70 60.20,289.27 61.90,289.27 61.90,289.83 63.60,289.83 63.60,290.40 65.53,290.40 65.53,290.97 67.47,290.97 67.47,291.53 69.40,291.53 69.40,292.10 70.70,292.10 70.70,292.95 72.00,292.95 72.00,293.80 73.85,293.80 73.85,294.40 75.70,294.40 75.70,295.00 76.70,295.00 76.70,296.10 81.00,296.60 82.00,296.60 82.00,298.20 85.20,298.70 86.20,298.70 86.20,300.30 89.40,300.80 90.50,300.80 90.50,302.20 93.70,302.40 94.20,304.40 105.70,304.40 106.70,304.40 106.70,306.80 151.50,307.00 151.90,314.40 174.40,314.40 174.60,329.40 229.20,329.40" fill="none" stroke="#a60430" stroke-width="1.5" stroke-linejoin="miter" stroke-linecap="butt"/>
<polyline points="34.80,235.30 36.20,240.00 37.40,246.50 38.40,251.80 40.90,260.20 41.95,260.20 41.95,261.70 43.00,261.70 43.00,263.20 45.10,263.20 45.10,265.20 47.60,265.20 47.60,267.50 50.10,267.50 50.10,269.40 51.80,269.40 51.80,269.97 53.50,269.97 53.50,270.53 55.20,270.53 55.20,271.10 58.80,271.80 60.35,271.80 60.35,272.30 61.90,272.30 61.90,272.80 64.00,272.80 64.00,274.05 66.10,274.05 66.10,275.30 68.40,275.30 68.40,277.00 70.30,277.00 70.30,277.80 75.30,278.40 76.80,278.40 76.80,279.80 82.70,279.80 83.60,279.80 83.60,281.90 85.20,281.90 85.20,282.20 86.80,282.20 86.80,282.50 88.40,282.50 88.40,282.80 89.40,282.80 89.40,285.30 103.40,285.30 104.20,289.10 110.50,289.50 111.10,294.30 124.90,294.30 125.80,299.10 126.80,299.10 126.80,300.10 127.80,305.30 160.60,305.30 161.20,312.10 235.60,312.10 235.60,344.20" fill="none" stroke="#5fa437" stroke-width="1.5" stroke-linejoin="miter" stroke-linecap="butt"/>
<polyline points="34.80,235.30 36.60,244.40 38.30,258.80 39.10,265.00 40.40,272.20 42.70,284.20 44.90,292.60 46.30,292.60 46.30,295.00 47.10,298.20 48.15,298.20 48.15,299.75 49.20,299.75 49.20,301.30 50.25,301.30 50.25,302.65 51.30,302.65 51.30,304.00 52.10,304.00 52.10,305.30 52.90,305.30 52.90,306.60 58.70,307.20 60.30,307.20 60.30,308.20 65.10,308.50 66.20,308.50 66.20,309.80 68.30,310.30 69.30,310.30 69.30,312.10 94.20,312.10 94.70,314.10 138.30,314.10 139.30,317.40 157.30,317.50 158.10,321.20 234.00,321.20" fill="none" stroke="#e08c14" stroke-width="1.5" stroke-linejoin="miter" stroke-linecap="butt"/>
<polyline points="297.80,235.30 299.30,244.40 300.20,258.80 301.50,268.00 302.40,272.20 304.20,283.00 305.20,292.00 307.00,300.40 308.80,306.40 309.40,306.40 309.40,307.90 310.00,307.90 310.00,309.40 310.60,309.40 310.60,310.90 311.20,310.90 311.20,312.40 312.70,312.40 312.70,314.20 314.20,314.20 314.20,316.00 315.70,316.00 315.70,317.20 317.20,317.20 317.20,318.40 318.70,318.40 318.70,319.60 320.20,319.60 320.20,320.80 322.00,320.80 322.00,321.40 323.80,321.40 323.80,322.00 326.20,322.00 326.20,324.40 327.70,324.40 327.70,325.30 329.20,325.30 329.20,326.20 331.15,326.20 331.15,326.65 333.10,326.65 333.10,327.10 335.00,327.10 335.00,327.43 336.90,327.43 336.90,327.77 338.80,327.77 338.80,328.10 340.47,328.10 340.47,328.83 342.13,328.83 342.13,329.57 343.80,329.57 343.80,330.30 352.50,330.60 353.95,330.60 353.95,331.50 355.40,331.50 355.40,332.40 357.20,332.40 357.20,333.25 359.00,333.25 359.00,334.10 402.80,334.00 403.60,337.30 449.20,337.30" fill="none" stroke="#22407e" stroke-width="1.5" stroke-linejoin="miter" stroke-linecap="butt"/>
<polyline points="297.80,235.30 299.30,243.00 300.70,251.80 303.20,270.30 305.70,278.70 308.30,287.00 308.93,287.00 308.93,288.70 309.55,288.70 309.55,290.40 310.18,290.40 310.18,292.10 310.80,292.10 310.80,293.80 312.40,300.40 313.60,300.40 313.60,302.20 314.80,302.20 314.80,304.00 317.20,304.00 317.20,305.20 320.80,305.80 322.30,305.80 322.30,306.70 323.80,306.70 323.80,307.60 326.20,307.60 326.20,309.40 327.70,309.40 327.70,310.00 329.20,310.00 329.20,310.60 331.10,310.60 331.10,311.20 333.00,311.20 333.00,311.80 334.20,311.80 334.20,313.60 336.00,313.60 336.00,315.00 337.67,315.00 337.67,315.30 339.33,315.30 339.33,315.60 341.00,315.60 341.00,315.90 342.80,315.90 342.80,317.35 344.60,317.35 344.60,318.80 346.40,318.80 346.40,319.90 348.20,319.90 348.20,321.00 349.95,321.00 349.95,321.07 351.70,321.07 351.70,321.15 353.45,321.15 353.45,321.23 355.20,321.23 355.20,321.30 356.95,321.30 356.95,321.38 358.70,321.38 358.70,321.45 360.45,321.45 360.45,321.52 362.20,321.52 362.20,321.60 363.95,321.60 363.95,321.67 365.70,321.67 365.70,321.75 367.45,321.75 367.45,321.82 369.20,321.82 369.20,321.90 369.70,323.90 414.50,323.90 415.00,334.00 437.30,334.00 437.30,344.60" fill="none" stroke="#a60430" stroke-width="1.5" stroke-linejoin="miter" stroke-linecap="butt"/>
<polyline points="297.80,235.30 299.80,249.00 301.50,258.50 304.10,268.60 304.76,268.60 304.76,270.28 305.42,270.28 305.42,271.96 306.08,271.96 306.08,273.64 306.74,273.64 306.74,275.32 307.40,275.32 307.40,277.00 308.25,277.00 308.25,278.68 309.10,278.68 309.10,280.35 309.95,280.35 309.95,282.02 310.80,282.02 310.80,283.70 311.62,283.70 311.62,285.38 312.45,285.38 312.45,287.05 313.28,287.05 313.28,288.72 314.10,288.72 314.10,290.40 315.80,290.40 315.80,292.10 317.50,292.10 317.50,292.50 319.20,292.50 319.20,292.90 329.20,293.40 330.05,293.40 330.05,295.10 330.90,295.10 330.90,296.80 343.80,297.20 345.30,297.20 345.30,299.40 346.75,299.40 346.75,300.45 348.20,300.45 348.20,301.50 351.00,302.20 352.50,302.20 352.50,304.40 366.70,304.80 367.00,308.50 373.40,308.50 373.80,313.50 390.20,313.50 390.70,318.60 392.70,318.90 393.50,323.60 422.90,323.60 423.40,330.30 449.50,330.30" fill="none" stroke="#5fa437" stroke-width="1.5" stroke-linejoin="miter" stroke-linecap="butt"/>
<polyline points="297.80,235.30 299.90,250.10 301.50,263.60 303.20,277.00 304.90,285.40 306.60,293.00 308.20,299.80 309.40,299.80 309.40,301.90 310.60,301.90 310.60,304.00 311.40,304.00 311.40,305.60 312.20,305.60 312.20,307.20 313.00,307.20 313.00,308.80 313.90,308.80 313.90,310.30 314.80,310.30 314.80,311.80 315.70,311.80 315.70,313.30 316.60,313.30 316.60,314.80 318.40,314.80 318.40,316.60 320.20,316.60 320.20,319.00 328.00,319.60 329.80,319.60 329.80,320.80 356.80,320.80 358.40,320.80 358.40,321.20 360.00,321.20 360.00,321.60 421.20,321.90 421.70,325.00 442.00,325.10 442.30,330.00 449.70,330.00 450.00,334.60 497.70,334.60" fill="none" stroke="#e08c14" stroke-width="1.5" stroke-linejoin="miter" stroke-linecap="butt"/>
</g>
</svg></div></body></html>
